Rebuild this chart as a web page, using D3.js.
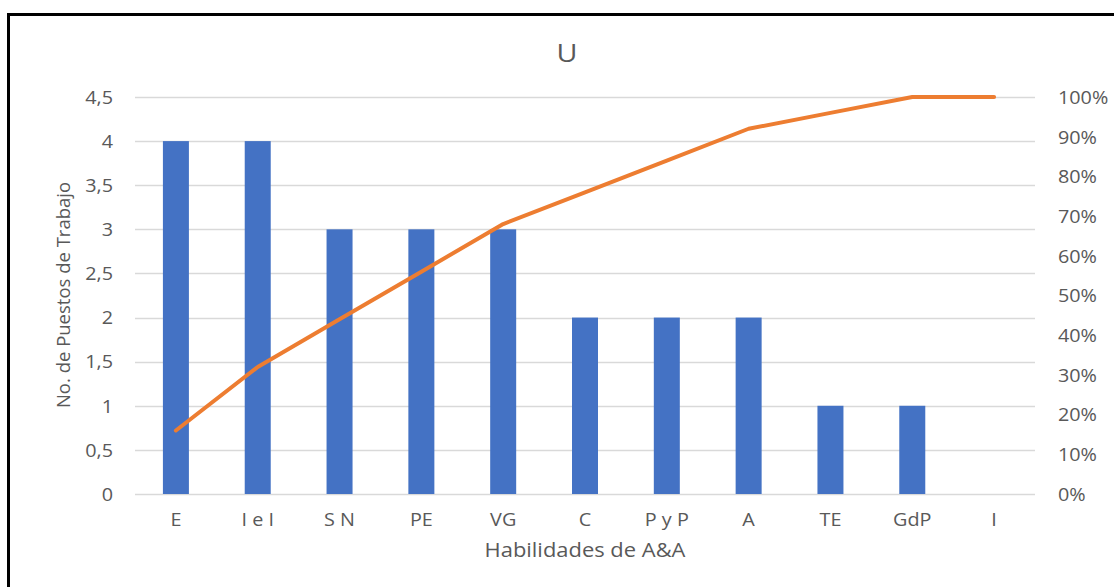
<!DOCTYPE html>
<html>
<head>
<meta charset="utf-8">
<script src="https://cdn.jsdelivr.net/npm/d3@7"></script>
<style>
  html, body { margin: 0; padding: 0; background: #fff; }
  svg { display: block; }
  text { font-family: "Open Sans", "Liberation Sans", sans-serif; fill: #595959; }
</style>
</head>
<body>
<svg id="chart" width="1114" height="587"></svg>
<script>
// Habilidades y número de puestos de trabajo (Pareto)
const categories = ["E", "I e I", "S N", "PE", "VG", "C", "P y P", "A", "TE", "GdP", "I"];
const puestos = [4, 4, 3, 3, 3, 2, 2, 2, 1, 1, 0];
const leftTicks = [0, 0.5, 1, 1.5, 2, 2.5, 3, 3.5, 4, 4.5];
const rightTicks = [0, 0.1, 0.2, 0.3, 0.4, 0.5, 0.6, 0.7, 0.8, 0.9, 1];

const total = d3.sum(puestos);
const acumulado = d3.cumsum(puestos).map(v => v / total);

const svg = d3.select("#chart");
const W = 1114, H = 587;
const plot = { left: 135, right: 1035, top: 97, bottom: 494 };
const stretch = "scale(1.1,1)";

// outer frame
svg.append("rect")
  .attr("x", 8.5).attr("y", 14.5)
  .attr("width", W + 20).attr("height", H + 20)
  .attr("fill", "none").attr("stroke", "#000").attr("stroke-width", 3);

const x = d3.scaleBand().domain(categories).range([plot.left, plot.right]);
const yL = d3.scaleLinear().domain([0, 4.5]).range([plot.bottom, plot.top]);
const yR = d3.scaleLinear().domain([0, 1]).range([plot.bottom, plot.top]);

const fmtL = d => d3.format("~g")(d).replace(".", ",");
const fmtR = d3.format(".0%");

// gridlines
svg.append("g")
  .selectAll("line").data(leftTicks).join("line")
  .attr("x1", plot.left).attr("x2", plot.right)
  .attr("y1", d => Math.round(yL(d)) + 0.5).attr("y2", d => Math.round(yL(d)) + 0.5)
  .attr("stroke", "#d9d9d9").attr("stroke-width", 1.5);

function styleTicks(g, dy) {
  g.select(".domain").remove();
  g.selectAll("text")
    .style("font-size", "18px")
    .style("fill", "#595959")
    .attr("dy", dy)
    .attr("transform", stretch);
}

// left axis
svg.append("g")
  .attr("transform", `translate(${plot.left - 22},0)`)
  .call(d3.axisLeft(yL).tickValues(leftTicks).tickFormat(fmtL).tickSize(0).tickPadding(0))
  .call(g => styleTicks(g, "0.35em"));

// right axis
svg.append("g")
  .attr("transform", `translate(${plot.right + 23},0)`)
  .call(d3.axisRight(yR).tickValues(rightTicks).tickFormat(fmtR).tickSize(0).tickPadding(0))
  .call(g => styleTicks(g, "0.35em"));

// category labels
svg.append("g")
  .attr("transform", `translate(0,${plot.bottom + 19})`)
  .call(d3.axisBottom(x).tickSize(0).tickPadding(0))
  .call(g => styleTicks(g, "0.71em"));

// bars
const barW = 26;
svg.append("g")
  .selectAll("rect").data(puestos).join("rect")
  .attr("x", (d, i) => x(categories[i]) + x.bandwidth() / 2 - barW / 2)
  .attr("width", barW)
  .attr("y", d => yL(d))
  .attr("height", d => yL(0) - yL(d))
  .attr("fill", "#4472C4");

// cumulative line
const line = d3.line()
  .x((d, i) => x(categories[i]) + x.bandwidth() / 2)
  .y(d => yR(d));
svg.append("path")
  .datum(acumulado)
  .attr("d", line)
  .attr("fill", "none")
  .attr("stroke", "#ED7D31")
  .attr("stroke-width", 4)
  .attr("stroke-linejoin", "round")
  .attr("stroke-linecap", "round");

// title
svg.append("text")
  .attr("transform", `translate(567,62) scale(1.15,1)`)
  .attr("text-anchor", "middle")
  .style("font-size", "25px")
  .text("U");

// axis titles
svg.append("text")
  .attr("transform", `translate(585,557) scale(1.07,1)`)
  .attr("text-anchor", "middle")
  .style("font-size", "20.5px")
  .text("Habilidades de A&A");

svg.append("text")
  .attr("transform", `translate(70,295) rotate(-90)`)
  .attr("text-anchor", "middle")
  .style("font-size", "18.5px")
  .text("No. de Puestos de Trabajo");
</script>
</body>
</html>
